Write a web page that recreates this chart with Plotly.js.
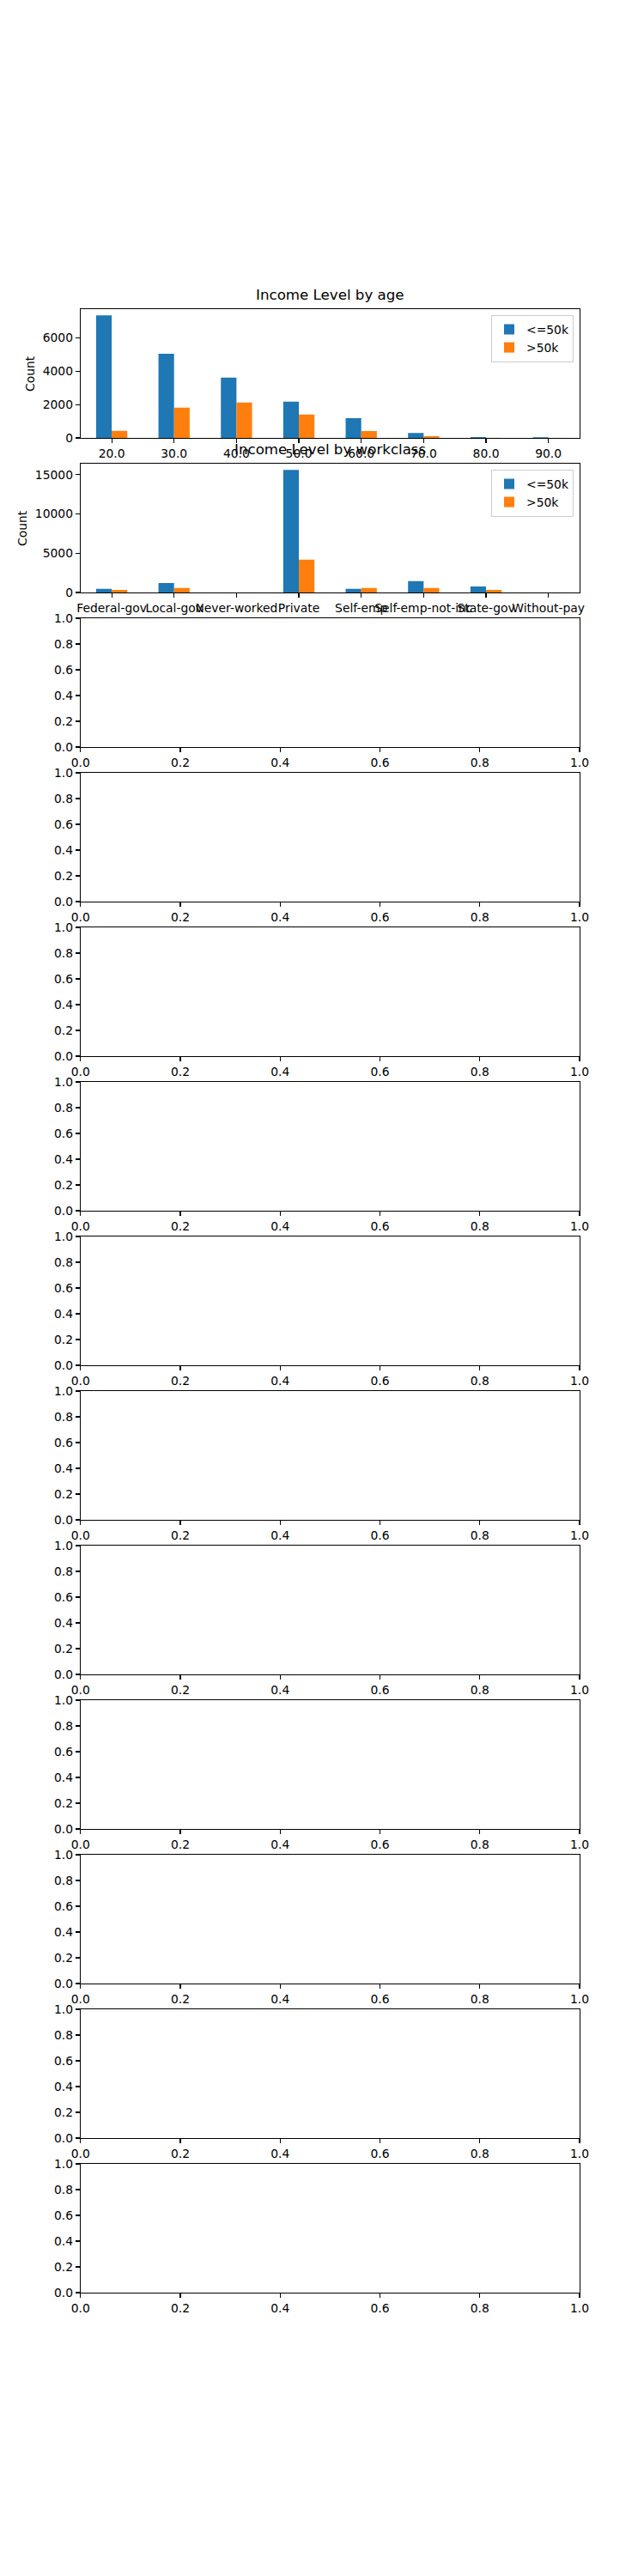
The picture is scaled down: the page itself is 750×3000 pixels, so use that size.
<!DOCTYPE html>
<html>
<head>
<meta charset="utf-8">
<script src="https://cdn.plot.ly/plotly-3.0.1.min.js"></script>
<style>html,body{margin:0;padding:0;background:#fff;}#chart{width:750px;height:3000px;}</style>
</head>
<body>
<div id="chart"></div>
<script>
// ---- data ----
const ageCategories = ['20.0', '30.0', '40.0', '50.0', '60.0', '70.0', '80.0', '90.0'];
const ageLow = [7350, 5040, 3610, 2170, 1180, 300, 50, 40];
const ageHigh = [430, 1810, 2120, 1400, 410, 100, 5, 2];

const workclassCategories = ['Federal-gov', 'Local-gov', 'Never-worked', 'Private', 'Self-emp', 'Self-emp-not-inc', 'State-gov', 'Without-pay'];
const workclassLow = [470, 1200, 6, 15610, 470, 1450, 760, 10];
const workclassHigh = [330, 580, 0, 4175, 580, 580, 330, 0];

const seriesNames = ['<=50k', '>50k'];
const titles = ['Income Level by age', 'Income Level by workclass'];
const emptyTicks = [0, 0.2, 0.4, 0.6, 0.8, 1.0];

// ---- layout geometry (matplotlib default subplot params) ----
const W = 750, H = 3000;
const FONT = 'DejaVu Sans, Liberation Sans, sans-serif';
const fs = 13.89;
const nAx = 13;
const axTop = 360, axH = 150, axGap = 30;
const xDom = [93.75 / W, 675 / W];
const colors = ['#1f77b4', '#ff7f0e'];

const layout = {
  width: W, height: H,
  margin: {l: 0, r: 0, t: 0, b: 0},
  paper_bgcolor: '#ffffff',
  plot_bgcolor: '#ffffff',
  font: {family: FONT, size: fs, color: '#000'},
  barmode: 'group',
  bargap: 0.5,
  bargroupgap: 0,
  showlegend: true,
  annotations: []
};

function yTop(i) { return axTop + i * (axH + axGap); }

const traces = [
  {type: 'bar', x: ageCategories, y: ageLow, name: seriesNames[0], marker: {color: colors[0]}, xaxis: 'x', yaxis: 'y', legend: 'legend', offsetgroup: 'a'},
  {type: 'bar', x: ageCategories, y: ageHigh, name: seriesNames[1], marker: {color: colors[1]}, xaxis: 'x', yaxis: 'y', legend: 'legend', offsetgroup: 'b'},
  {type: 'bar', x: workclassCategories, y: workclassLow, name: seriesNames[0], marker: {color: colors[0]}, xaxis: 'x2', yaxis: 'y2', legend: 'legend2', offsetgroup: 'a'},
  {type: 'bar', x: workclassCategories, y: workclassHigh, name: seriesNames[1], marker: {color: colors[1]}, xaxis: 'x2', yaxis: 'y2', legend: 'legend2', offsetgroup: 'b'}
];

for (let i = 0; i < nAx; i++) {
  const sfx = i === 0 ? '' : String(i + 1);
  const t = yTop(i), b = t + axH;
  const common = {
    showline: true, linecolor: '#000', linewidth: 1.1, mirror: true,
    ticks: 'outside', ticklen: 4.86, tickwidth: 1.1, tickcolor: '#000',
    showgrid: false, zeroline: false, tickangle: 0,
    tickfont: {family: FONT, size: fs, color: '#000'}
  };
  layout['xaxis' + sfx] = Object.assign({}, common, {
    domain: xDom, anchor: 'y' + sfx
  });
  layout['yaxis' + sfx] = Object.assign({}, common, {
    domain: [1 - b / H, 1 - t / H], anchor: 'x' + sfx
  });
  if (i >= 2) {
    layout['xaxis' + sfx].range = [0, 1];
    layout['xaxis' + sfx].tickvals = emptyTicks;
    layout['xaxis' + sfx].tickformat = '.1f';
    layout['yaxis' + sfx].range = [0, 1];
    layout['yaxis' + sfx].tickvals = emptyTicks;
    layout['yaxis' + sfx].tickformat = '.1f';
    // empty placeholder trace so that the empty subplot is drawn
    traces.push({type: 'scatter', x: [], y: [], xaxis: 'x' + sfx, yaxis: 'y' + sfx,
                 showlegend: false, hoverinfo: 'skip', mode: 'markers'});
  }
}

// bar subplot settings
layout.xaxis.type = 'category';
layout.xaxis.range = [-0.5, ageCategories.length - 0.5];
layout.yaxis.range = [0, Math.max(...ageLow) * 1.05];
layout.yaxis.tickvals = [0, 2000, 4000, 6000];
layout.yaxis.tickformat = 'd';
layout.xaxis2.type = 'category';
layout.xaxis2.range = [-0.5, workclassCategories.length - 0.5];
layout.yaxis2.range = [0, Math.max(...workclassLow) * 1.05];
layout.yaxis2.tickvals = [0, 5000, 10000, 15000];
layout.yaxis2.tickformat = 'd';

// titles and y labels
for (let i = 0; i < 2; i++) {
  const t = yTop(i);
  layout.annotations.push({
    text: titles[i], xref: 'paper', yref: 'paper',
    x: (xDom[0] + xDom[1]) / 2, y: 1 - (t - 5) / H,
    xanchor: 'center', yanchor: 'bottom', showarrow: false,
    font: {family: FONT, size: 16.67, color: '#000'}
  });
  layout.annotations.push({
    text: 'Count', xref: 'paper', yref: 'paper',
    x: (i === 0 ? 35 : 26) / W, y: 1 - (t + axH / 2) / H,
    xanchor: 'center', yanchor: 'middle', showarrow: false, textangle: -90,
    font: {family: FONT, size: fs, color: '#000'}
  });
}

// legends
const legendCommon = {
  xref: 'paper', yref: 'paper', xanchor: 'right', yanchor: 'top',
  bgcolor: 'rgba(255,255,255,0.8)', bordercolor: '#cccccc', borderwidth: 1,
  font: {family: FONT, size: fs, color: '#000'}, traceorder: 'normal',
  itemclick: false, itemdoubleclick: false
};
layout.legend = Object.assign({}, legendCommon, {x: 668 / W, y: 1 - 367 / H});
layout.legend2 = Object.assign({}, legendCommon, {x: 668 / W, y: 1 - (yTop(1) + 7) / H});

Plotly.newPlot('chart', traces, layout, {staticPlot: true, displayModeBar: false});
</script>
</body>
</html>
